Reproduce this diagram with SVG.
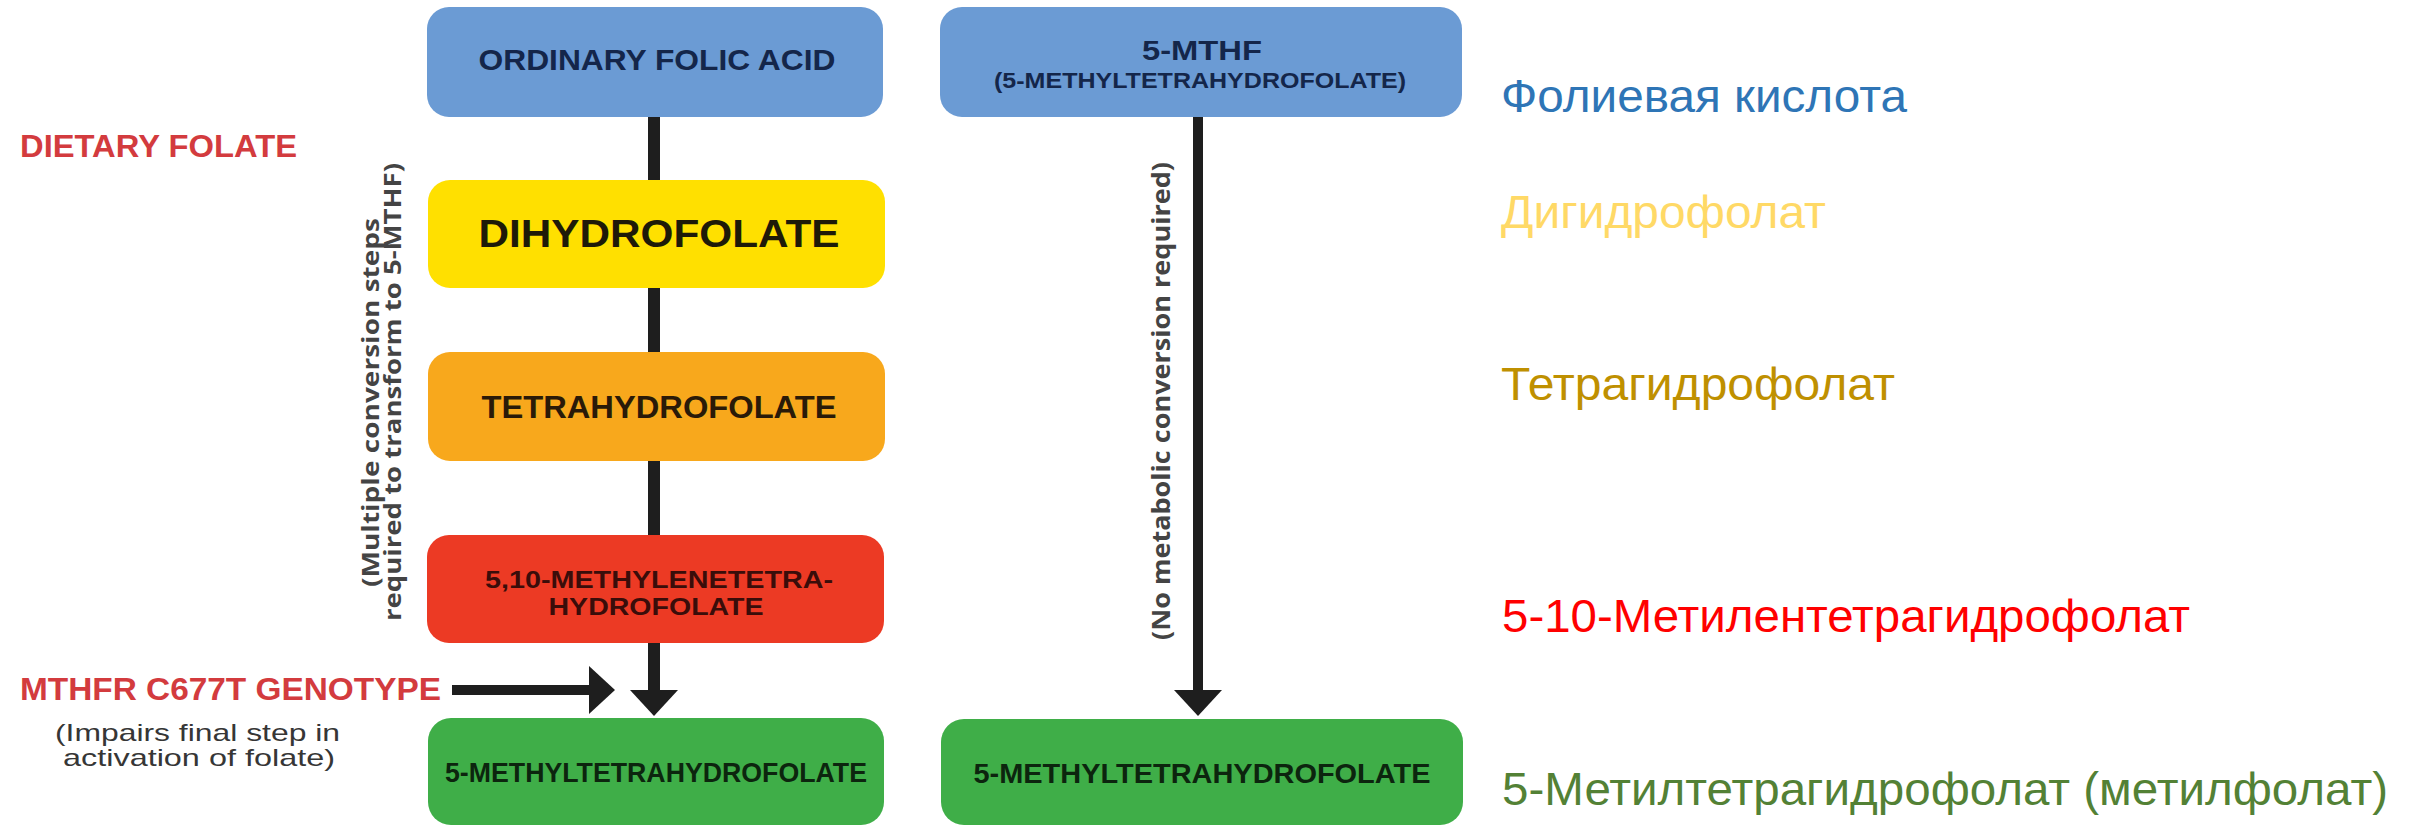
<svg xmlns="http://www.w3.org/2000/svg" width="2412" height="826" viewBox="0 0 2412 826">
  <style>
    .box-label { font-family: "Liberation Sans Narrow", "Liberation Sans", Roboto, Arial, sans-serif; font-weight: bold; text-anchor: middle; }
    .side-label { font-family: "Liberation Sans Narrow", "Liberation Sans", Roboto, Arial, sans-serif; font-weight: bold; }
    .note { font-family: "Liberation Sans Narrow", "Liberation Sans", Roboto, Arial, sans-serif; fill: #363636; }
    .vnote { font-family: "Open Sans", "DejaVu Sans", "Liberation Sans", sans-serif; font-weight: bold; fill: #444444; text-anchor: middle; }
    .ru { font-family: "Liberation Sans", Arial, sans-serif; font-size: 46px; }
    .link { stroke: #1e1e1e; fill: none; }
  </style>
  <defs>
    <marker id="head" markerUnits="userSpaceOnUse" markerWidth="28" markerHeight="50" refX="0" refY="24" orient="auto" viewBox="0 0 28 48">
      <path d="M0,0 L26,24 L0,48 Z" fill="#1e1e1e"/>
    </marker>
  </defs>

  <rect width="2412" height="826" fill="#ffffff"/>

  <!-- connectors -->
  <g id="connectors">
    <line class="link" x1="654" y1="115" x2="654" y2="182" stroke-width="12"/>
    <line class="link" x1="654" y1="286" x2="654" y2="354" stroke-width="12"/>
    <line class="link" x1="654" y1="459" x2="654" y2="537" stroke-width="12"/>
    <line class="link" x1="654" y1="641" x2="654" y2="690" stroke-width="12" marker-end="url(#head)"/>
    <line class="link" x1="1198" y1="115" x2="1198" y2="690" stroke-width="10" marker-end="url(#head)"/>
    <line class="link" x1="452" y1="690" x2="589" y2="690" stroke-width="10" marker-end="url(#head)"/>
  </g>

  <!-- left column: folic acid pathway -->
  <g id="folic-acid">
    <rect x="427" y="7" width="456" height="110" rx="22" fill="#6b9bd4"/>
    <text class="box-label" x="657" y="70" font-size="30" fill="#14264a" textLength="357" lengthAdjust="spacingAndGlyphs">ORDINARY FOLIC ACID</text>
  </g>
  <g id="dihydrofolate">
    <rect x="428" y="180" width="457" height="108" rx="22" fill="#ffe000"/>
    <text class="box-label" x="659" y="247" font-size="38" fill="#1e1a08" textLength="361" lengthAdjust="spacingAndGlyphs">DIHYDROFOLATE</text>
  </g>
  <g id="tetrahydrofolate">
    <rect x="428" y="352" width="457" height="109" rx="22" fill="#f8a81c"/>
    <text class="box-label" x="659" y="418" font-size="31" fill="#2a1a08" textLength="355" lengthAdjust="spacingAndGlyphs">TETRAHYDROFOLATE</text>
  </g>
  <g id="methylenetetrahydrofolate">
    <rect x="427" y="535" width="457" height="108" rx="22" fill="#ec3a24"/>
    <text class="box-label" x="659" y="588" font-size="24" fill="#3a0d0a" textLength="348" lengthAdjust="spacingAndGlyphs">5,10-METHYLENETETRA-</text>
    <text class="box-label" x="656" y="615" font-size="24" fill="#3a0d0a" textLength="215" lengthAdjust="spacingAndGlyphs">HYDROFOLATE</text>
  </g>
  <g id="methyltetrahydrofolate-left">
    <rect x="428" y="718" width="456" height="107" rx="23" fill="#3fae48"/>
    <text class="box-label" x="656" y="782" font-size="28" fill="#0c250e" textLength="422" lengthAdjust="spacingAndGlyphs">5-METHYLTETRAHYDROFOLATE</text>
  </g>

  <!-- right column: direct 5-MTHF -->
  <g id="mthf">
    <rect x="940" y="7" width="522" height="110" rx="22" fill="#6b9bd4"/>
    <text class="box-label" x="1202" y="60" font-size="28" fill="#14264a" textLength="120" lengthAdjust="spacingAndGlyphs">5-MTHF</text>
    <text class="box-label" x="1200" y="88" font-size="22" fill="#14264a" textLength="412" lengthAdjust="spacingAndGlyphs">(5-METHYLTETRAHYDROFOLATE)</text>
  </g>
  <g id="methyltetrahydrofolate-right">
    <rect x="941" y="719" width="522" height="106" rx="23" fill="#3fae48"/>
    <text class="box-label" x="1202" y="783" font-size="28" fill="#0c250e" textLength="457" lengthAdjust="spacingAndGlyphs">5-METHYLTETRAHYDROFOLATE</text>
  </g>

  <!-- side notes -->
  <g id="dietary-folate">
    <text class="side-label" x="20" y="157" font-size="31" fill="#d33b3e" textLength="277" lengthAdjust="spacingAndGlyphs">DIETARY FOLATE</text>
  </g>
  <g id="mthfr-genotype">
    <text class="side-label" x="20" y="700" font-size="31" fill="#d33b3e" textLength="421" lengthAdjust="spacingAndGlyphs">MTHFR C677T GENOTYPE</text>
    <text class="note" x="55" y="741" font-size="24" textLength="285" lengthAdjust="spacingAndGlyphs">(Impairs final step in</text>
    <text class="note" x="63" y="766" font-size="24" textLength="272" lengthAdjust="spacingAndGlyphs">activation of folate)</text>
  </g>
  <g id="conversion-note">
    <text class="vnote" transform="translate(379 402.5) rotate(-90)" font-size="24" textLength="369" lengthAdjust="spacingAndGlyphs">(Multiple conversion steps</text>
    <text class="vnote" transform="translate(401 392) rotate(-90)" font-size="24" textLength="458" lengthAdjust="spacingAndGlyphs">required to transform to 5-MTHF)</text>
  </g>
  <g id="no-conversion-note">
    <text class="vnote" transform="translate(1170 401) rotate(-90)" font-size="25" textLength="478" lengthAdjust="spacingAndGlyphs">(No metabolic conversion required)</text>
  </g>

  <!-- Russian names -->
  <g id="ru-labels">
    <text class="ru" x="1501" y="112" fill="#2e75b6" textLength="406" lengthAdjust="spacingAndGlyphs">Фолиевая кислота</text>
    <text class="ru" x="1501" y="228" fill="#ffd966" textLength="325" lengthAdjust="spacingAndGlyphs">Дигидрофолат</text>
    <text class="ru" x="1501" y="400" fill="#bf9000" textLength="394" lengthAdjust="spacingAndGlyphs">Тетрагидрофолат</text>
    <text class="ru" x="1502" y="632" fill="#ff0000" textLength="688" lengthAdjust="spacingAndGlyphs">5-10-Метилентетрагидрофолат</text>
    <text class="ru" x="1502" y="805" fill="#538135" textLength="886" lengthAdjust="spacingAndGlyphs">5-Метилтетрагидрофолат (метилфолат)</text>
  </g>
</svg>
